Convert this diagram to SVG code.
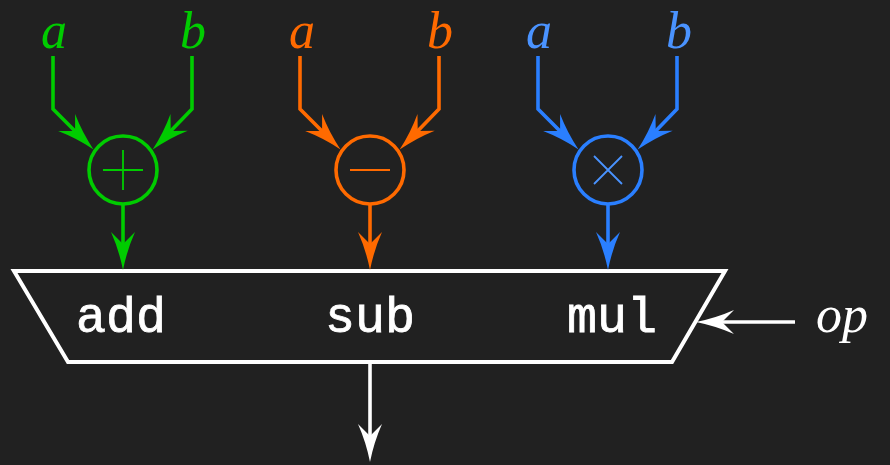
<svg xmlns="http://www.w3.org/2000/svg" width="890" height="465" viewBox="0 0 890 465">
  <defs>
    <marker id="ah-green" markerUnits="userSpaceOnUse" viewBox="-30 -14 42 28" refX="0" refY="0" markerWidth="42" markerHeight="28" orient="auto">
      <path d="M10,0 Q-10,-4 -28,-12 L-16,0 L-28,12 Q-10,4 10,0 Z" fill="#00cc00"/>
    </marker>
    <marker id="ah-orange" markerUnits="userSpaceOnUse" viewBox="-30 -14 42 28" refX="0" refY="0" markerWidth="42" markerHeight="28" orient="auto">
      <path d="M10,0 Q-10,-4 -28,-12 L-16,0 L-28,12 Q-10,4 10,0 Z" fill="#ff6a00"/>
    </marker>
    <marker id="ah-blue" markerUnits="userSpaceOnUse" viewBox="-30 -14 42 28" refX="0" refY="0" markerWidth="42" markerHeight="28" orient="auto">
      <path d="M10,0 Q-10,-4 -28,-12 L-16,0 L-28,12 Q-10,4 10,0 Z" fill="#2a7fff"/>
    </marker>
    <marker id="ah-white" markerUnits="userSpaceOnUse" viewBox="-30 -14 42 28" refX="0" refY="0" markerWidth="42" markerHeight="28" orient="auto">
      <path d="M10,0 Q-10,-4 -28,-12 L-16,0 L-28,12 Q-10,4 10,0 Z" fill="#ffffff"/>
    </marker>
  </defs>
  <style>
    .wire { fill: none; stroke-width: 3.6; stroke-linejoin: miter; }
    .g { stroke: #00cc00; }
    .o { stroke: #ff6a00; }
    .b { stroke: #2a7fff; }
    .w { stroke: #ffffff; }
    .op-circle { fill: none; stroke-width: 3.6; }
    .sym { stroke-width: 1.8; fill: none; }
    .var { font-family: "Liberation Serif", "DejaVu Serif", serif; font-style: italic; font-size: 52px; text-anchor: middle; }
    .mono { font-family: "Liberation Mono", "DejaVu Sans Mono", monospace; font-size: 50px; fill: #ffffff; stroke: #ffffff; stroke-width: 0.8; text-anchor: middle; }
  </style>
  <rect width="890" height="465" fill="#212121"/>

  <!-- input labels -->
  <g id="inputs">
    <text class="var" x="54" y="48" fill="#00cc00">a</text>
    <text class="var" x="193" y="48" fill="#00cc00">b</text>
    <text class="var" x="302" y="48" fill="#ff6a00">a</text>
    <text class="var" x="440" y="48" fill="#ff6a00">b</text>
    <text class="var" x="539" y="48" fill="#4a93ff">a</text>
    <text class="var" x="679" y="48" fill="#4a93ff">b</text>
  </g>

  <!-- adder -->
  <g id="adder">
    <circle class="op-circle g" cx="123" cy="170" r="34"/>
    <path class="sym g" d="M103,170 H143 M123,150 V190"/>
  </g>

  <!-- subtractor -->
  <g id="subtractor">
    <circle class="op-circle o" cx="370" cy="170" r="34"/>
    <path class="sym o" d="M350,170 H390"/>
  </g>

  <!-- multiplier -->
  <g id="multiplier">
    <circle class="op-circle b" cx="608" cy="170" r="34"/>
    <path class="sym" stroke="#4a93ff" d="M594,156 L622,184 M622,156 L594,184"/>
  </g>

  <!-- multiplexer -->
  <g id="mux">
    <path d="M14,271 H725 L672,362 H68 Z" fill="none" stroke="#ffffff" stroke-width="4" stroke-linejoin="miter"/>
    <text class="mono" x="121" y="332">add</text>
    <text class="mono" x="370" y="332">sub</text>
    <text class="mono" x="612" y="332">mul</text>
  </g>

  <!-- select label -->
  <g id="select">
    <text class="var" x="842" y="332" fill="#ffffff">op</text>
  </g>

  <!-- connectors -->
  <g id="connectors">
    <path class="wire g" d="M53,56 V109 L86.4,142.4" marker-end="url(#ah-green)"/>
    <path class="wire g" d="M192,56 V109 L159.6,142.4" marker-end="url(#ah-green)"/>
    <path class="wire g" d="M123,204 V260" marker-end="url(#ah-green)"/>

    <path class="wire o" d="M300,56 V109 L333.4,142.4" marker-end="url(#ah-orange)"/>
    <path class="wire o" d="M439,56 V109 L406.6,142.4" marker-end="url(#ah-orange)"/>
    <path class="wire o" d="M370,204 V260" marker-end="url(#ah-orange)"/>

    <path class="wire b" d="M538,56 V109 L571.4,142.4" marker-end="url(#ah-blue)"/>
    <path class="wire b" d="M677,56 V109 L644.6,142.4" marker-end="url(#ah-blue)"/>
    <path class="wire b" d="M608,204 V260" marker-end="url(#ah-blue)"/>

    <path class="wire w" d="M370,362 V452" marker-end="url(#ah-white)"/>
    <path class="wire w" d="M795,322 H706" marker-end="url(#ah-white)"/>
  </g>
</svg>
